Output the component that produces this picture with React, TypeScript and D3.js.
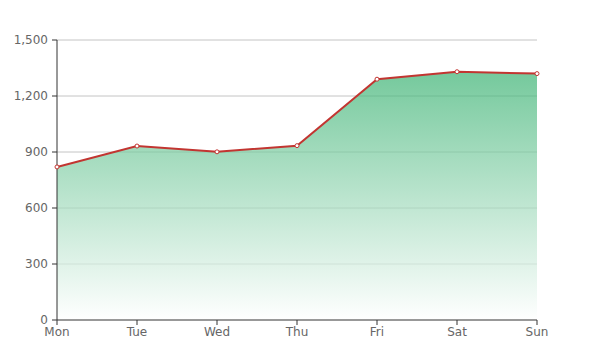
import React from "react";
import * as d3 from "d3";

const categories = ["Mon", "Tue", "Wed", "Thu", "Fri", "Sat", "Sun"];
const values = [820, 932, 901, 934, 1290, 1330, 1320];
const yTicks = [0, 300, 600, 900, 1200, 1500];

export default function App() {
  const W = 616, H = 364;
  const left = 57, right = 537, top = 40, bottom = 320;
  const x = d3.scalePoint<string>().domain(categories).range([left, right]);
  const y = d3.scaleLinear().domain([0, 1500]).range([bottom, top]);
  const fmt = d3.format(",");
  const pts = categories.map((c, i) => [x(c) as number, y(values[i])] as [number, number]);
  const line = d3.line().x(d => d[0]).y(d => d[1])(pts) || "";
  const area = d3.area().x(d => d[0]).y0(bottom).y1(d => d[1])(pts) || "";
  const font = "'Microsoft YaHei', 'DejaVu Sans', sans-serif";
  return (
    <svg width={W} height={H} style={{ position: "absolute", left: 0, top: 0, background: "#fff" }}>
      <defs>
        <linearGradient id="g" x1="0" y1={y(1330)} x2="0" y2={bottom} gradientUnits="userSpaceOnUse">
          <stop offset="0" stopColor="rgb(58,178,114)" />
          <stop offset="1" stopColor="rgb(255,255,255)" />
        </linearGradient>
      </defs>
      {yTicks.map(t => (
        <g key={t}>
          {t > 0 && <line x1={left} x2={right} y1={y(t)} y2={y(t)} stroke="#c4c4c4" strokeWidth={1} />}
          <line x1={left - 5} x2={left} y1={y(t)} y2={y(t)} stroke="#333" />
          <text x={left - 9} y={y(t)} dy="0.35em" textAnchor="end" fontSize={12} fill="#666" fontFamily={font}>{fmt(t)}</text>
        </g>
      ))}
      <path d={area} fill="url(#g)" fillOpacity={0.7} />
      <line x1={left} x2={left} y1={top} y2={bottom} stroke="#333" />
      <line x1={left} x2={right} y1={bottom} y2={bottom} stroke="#333" />
      {categories.map(c => (
        <g key={c}>
          <line x1={x(c)} x2={x(c)} y1={bottom} y2={bottom + 5} stroke="#333" />
          <text x={x(c)} y={bottom + 12} dy="0.35em" textAnchor="middle" fontSize={12} fill="#666" fontFamily={font}>{c}</text>
        </g>
      ))}
      <path d={line} fill="none" stroke="#c23531" strokeWidth={2} />
      {pts.map((p, i) => (
        <circle key={i} cx={p[0]} cy={p[1]} r={2} fill="#fff" stroke="#c23531" strokeWidth={1} />
      ))}
    </svg>
  );
}
